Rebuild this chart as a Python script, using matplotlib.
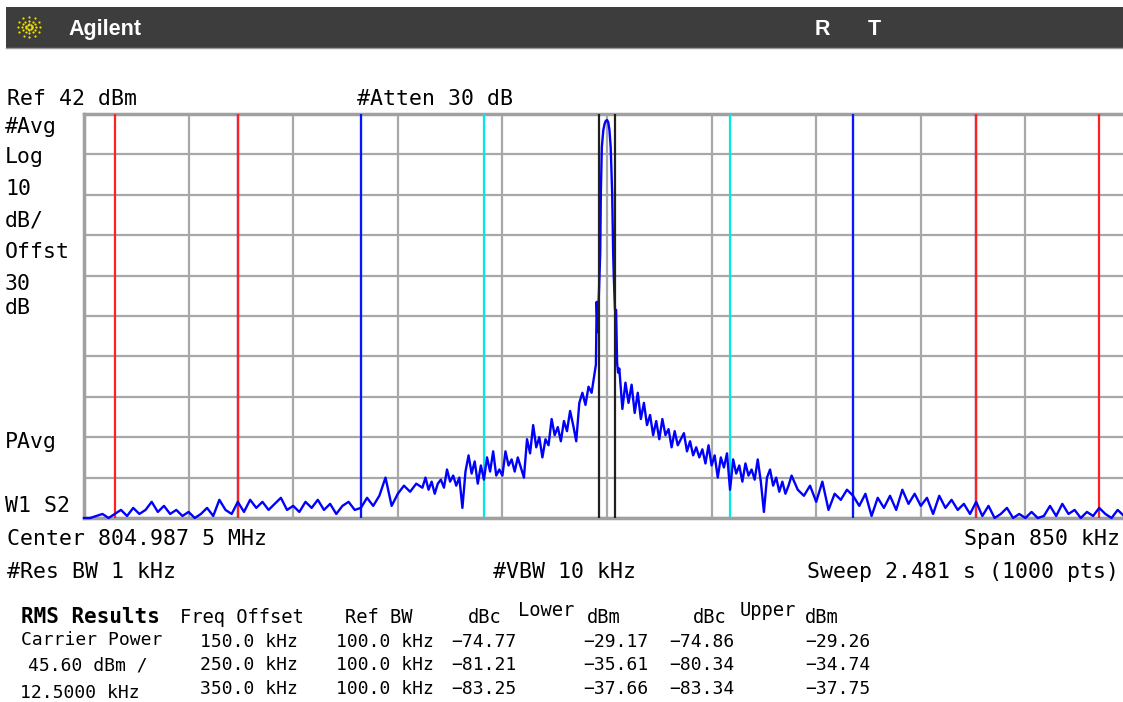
import numpy as np
import matplotlib.pyplot as plt
from matplotlib.patches import Rectangle

W, H = 1123, 702  # 画像サイズ (px)

# 掃引トレース: 中心からのオフセット周波数 (kHz) と レベル (dBm)
far_left_khz = np.arange(-425, -150, 5)
far_left_dbm = [-58, -58, -57.5, -57, -58, -57, -56, -57.5, -55.5, -57,
                -56, -54, -56.5, -55, -57, -56, -57.5, -56.5, -58, -57,
                -55.5, -57.5, -53.5, -56, -57, -54, -56.5, -53.5, -55.5, -54,
                -56, -54.5, -53, -56, -55, -56.5, -54, -55.5, -53.5, -56,
                -54.5, -57, -55, -54, -56, -55.5, -53, -55, -52.5, -48,
                -55, -52, -50, -51.5, -49.5]

near_left_khz = np.arange(-150, -7.5, 2.5)
near_left_dbm = [-50.5, -48, -51, -49, -52, -49.5, -48.5, -50.5, -46, -49,
                 -47.5, -50, -48, -55.5, -46.5, -42.5, -47, -44, -49.5, -45,
                 -48.5, -43, -46.5, -41.5, -47.5, -46, -47.5, -41.5, -45, -43.5,
                 -46.5, -43, -45.5, -48, -38.5, -42, -35, -40.5, -38, -43,
                 -38.5, -40, -33.5, -37.5, -35.5, -39, -34, -36.5, -31.5, -35,
                 -39, -29.5, -27, -30, -25.5, -27, -22]

carrier_khz = [-9.0, -8.4, -7.6, -6.5, -5.5, -5.0, -4.2, -3.0, -2.0, -1.0, 0.0,
               1.0, 2.0, 3.0, 4.2, 5.0, 5.5, 6.5, 7.4, 8.2, 9.0]
carrier_dbm = [-20, -4.5, -12, -2, 7.6, 22.4, 33.8, 38, 39.5, 40.3, 40.5,
               40, 38, 33.8, 22.4, 7.6, 2, -6.5, -6.5, -19.6, -22]

near_right_khz = np.arange(10, 152.5, 2.5)
near_right_dbm = [-21, -31, -24.5, -29.5, -25, -32, -27, -33.5, -29.5, -35,
                  -32.5, -37.5, -34, -38.5, -33.5, -37.5, -36, -40.5, -36.5, -40,
                  -38.5, -37, -41.5, -39, -42.5, -40.5, -43, -41, -44.5, -40,
                  -45, -42.5, -48, -43, -45.5, -42, -51, -43.5, -47, -45,
                  -49, -44.5, -47.5, -46, -48.5, -43.5, -49, -56.5, -48, -46,
                  -50, -48, -51.5, -49, -52, -50, -47.5]

far_right_khz = np.arange(155, 430, 5)
far_right_dbm = [-51, -52.5, -50, -54, -49, -56, -52, -53.5, -51, -52.5,
                 -55, -52, -57.5, -53, -55.5, -52.5, -56, -51, -54.5, -52,
                 -55, -53, -57, -52.5, -55.5, -53.5, -56, -54.5, -57, -54,
                 -57.5, -55, -58, -57, -55.5, -58, -57, -58, -56.5, -58,
                 -57.5, -55, -57.5, -54.5, -57, -56, -58, -56.5, -57.5, -55.5,
                 -57, -58, -56, -57.5, -58]

# 測定設定
ref_level = 42
db_per_div = 10
span_khz = 850
carrier_bw_khz = 12.5
ref_bw_khz = 100.0
offsets_khz = [150.0, 250.0, 350.0]
offset_colors = ['#00e8e8', '#1010ff', '#ff2020']

# RMS 結果テーブル
lower_dbc = [-74.77, -81.21, -83.25]
lower_dbm = [-29.17, -35.61, -37.66]
upper_dbc = [-74.86, -80.34, -83.34]
upper_dbm = [-29.26, -34.74, -37.75]

MONO = 'DejaVu Sans Mono'

freq = np.concatenate([far_left_khz, near_left_khz, carrier_khz, near_right_khz, far_right_khz])
level = np.concatenate([far_left_dbm, near_left_dbm, carrier_dbm, near_right_dbm, far_right_dbm])
level = np.clip(level, ref_level - 10 * db_per_div, ref_level)

fig = plt.figure(figsize=(W / 100, H / 100), dpi=100)

# 画面全体をピクセル座標で扱う背景用の軸
bg = fig.add_axes([0, 0, 1, 1])
bg.set_xlim(0, W)
bg.set_ylim(H, 0)
bg.axis('off')

# ヘッダーバー
bg.add_patch(Rectangle((6, 7), W - 6, 41, color='#3d3d3d', lw=0))
bg.plot([6, W], [48, 48], color='#9a9a9a', lw=1)
for ang in np.arange(0, 360, 30):
    for r in (3, 7, 11):
        bg.plot(29 + r * np.cos(np.radians(ang)), 27 + r * 0.9 * np.sin(np.radians(ang)),
                'o', ms=1.6, color='#f0e000', mec='none')
bg.text(68, 35, 'Agilent', color='white', fontsize=15.5, fontweight='bold',
        family='Liberation Sans', va='baseline')
bg.text(815, 35, 'R', color='white', fontsize=15.5, fontweight='bold',
        family='Liberation Sans', va='baseline')
bg.text(868, 35, 'T', color='white', fontsize=15.5, fontweight='bold',
        family='Liberation Sans', va='baseline')

fs = 15.5
bg.text(7, 105, f'Ref {ref_level} dBm', fontsize=fs, family=MONO)
bg.text(357, 105, '#Atten 30 dB', fontsize=fs, family=MONO)
left_labels = [('#Avg', 133), ('Log', 163), ('10', 195), ('dB/', 226), ('Offst', 258),
               ('30', 290), ('dB', 314), ('PAvg', 448), ('W1 S2', 512)]
for s, yb in left_labels:
    bg.text(5, yb, s, fontsize=fs, family=MONO)

bg.text(7, 545, 'Center 804.987 5 MHz', fontsize=fs, family=MONO)
bg.text(1120, 545, f'Span {span_khz} kHz', fontsize=fs, family=MONO, ha='right')
bg.text(7, 578, '#Res BW 1 kHz', fontsize=fs, family=MONO)
bg.text(493, 578, '#VBW 10 kHz', fontsize=fs, family=MONO)
bg.text(1119, 578, 'Sweep 2.481 s (1000 pts)', fontsize=fs, family=MONO, ha='right')

# RMS 結果
ts = 13
bg.text(21, 623, 'RMS Results', fontsize=15, family=MONO, fontweight='bold')
bg.text(180, 623, 'Freq Offset', fontsize=13.5, family=MONO)
bg.text(345, 623, 'Ref BW', fontsize=13.5, family=MONO)
bg.text(502, 623, 'dBc', fontsize=13.5, family=MONO, ha='right')
bg.text(518, 616, 'Lower', fontsize=13.5, family=MONO)
bg.text(587, 623, 'dBm', fontsize=13.5, family=MONO)
bg.text(727, 623, 'dBc', fontsize=13.5, family=MONO, ha='right')
bg.text(740, 616, 'Upper', fontsize=13.5, family=MONO)
bg.text(805, 623, 'dBm', fontsize=13.5, family=MONO)

bg.text(21, 645, 'Carrier Power', fontsize=ts, family=MONO)
bg.text(28, 670, '45.60 dBm /', fontsize=ts, family=MONO)
bg.text(20, 698, f'{carrier_bw_khz:.4f} kHz', fontsize=ts, family=MONO)
for i, yb in enumerate([647, 670, 694]):
    bg.text(298, yb, f'{offsets_khz[i]:.1f} kHz', fontsize=ts, family=MONO, ha='right')
    bg.text(434, yb, f'{ref_bw_khz:.1f} kHz', fontsize=ts, family=MONO, ha='right')
    bg.text(517, yb, f'{lower_dbc[i]:.2f}'.replace('-', '\u2212'), fontsize=ts, family=MONO, ha='right')
    bg.text(648, yb, f'{lower_dbm[i]:.2f}'.replace('-', '\u2212'), fontsize=ts, family=MONO, ha='right')
    bg.text(735, yb, f'{upper_dbc[i]:.2f}'.replace('-', '\u2212'), fontsize=ts, family=MONO, ha='right')
    bg.text(870, yb, f'{upper_dbm[i]:.2f}'.replace('-', '\u2212'), fontsize=ts, family=MONO, ha='right')

# スペクトル表示部 (右端は画像外まで伸びる)
ax = fig.add_axes([84 / W, (H - 518) / H, (1130 - 84) / W, (518 - 114) / H])
half = span_khz / 2
bottom = ref_level - 10 * db_per_div
ax.set_xlim(-half, half)
ax.set_ylim(bottom, ref_level)
ax.set_xticks(np.linspace(-half, half, 11))
ax.set_yticks(np.arange(bottom, ref_level + 1, db_per_div))
ax.tick_params(length=0, labelbottom=False, labelleft=False)
ax.grid(color='#a8a8a8', lw=1.6)
for sp in ax.spines.values():
    sp.set_color('#a0a0a0')
    sp.set_linewidth(2.5)

# オフセット帯域のマーカー線
for k, (off, c) in enumerate(zip(offsets_khz, offset_colors)):
    for edge in (off - ref_bw_khz / 2, off + ref_bw_khz / 2):
        ax.axvline(edge, color=c, lw=1.6, zorder=3 + k * 0.1)
        ax.axvline(-edge, color=c, lw=1.6, zorder=3 + k * 0.1)

ax.plot(freq, level, color='#0000ff', lw=1.7, zorder=5, clip_on=False)

for edge in (-carrier_bw_khz / 2, carrier_bw_khz / 2):
    ax.axvline(edge, color='#202020', lw=1.6, zorder=6)

fig.savefig('out.png', dpi=100)
